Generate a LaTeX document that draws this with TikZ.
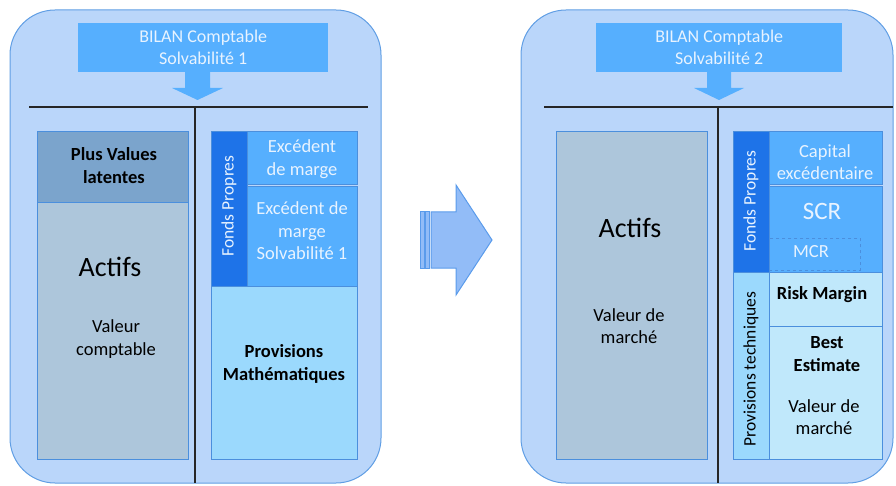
\documentclass[tikz,border=0pt]{standalone}
\usepackage{fontspec}
\setmainfont{Carlito}
\definecolor{panelfill}{RGB}{186,214,250}
\definecolor{panelline}{RGB}{96,158,228}
\definecolor{titlefill}{RGB}{86,175,254}
\definecolor{titletext}{RGB}{232,243,255}
\definecolor{pvfill}{RGB}{123,164,204}
\definecolor{actiffill}{RGB}{173,198,219}
\definecolor{darkstrip}{RGB}{30,115,232}
\definecolor{midfill}{RGB}{86,175,254}
\definecolor{palefill}{RGB}{155,217,253}
\definecolor{lightfill}{RGB}{192,232,251}
\definecolor{boxline}{RGB}{75,143,221}
\definecolor{arrowfill}{RGB}{146,188,247}
\definecolor{arrowline}{RGB}{90,155,235}
\tikzset{
  panel/.style={draw=panelline, line width=1pt, fill=panelfill, rounded corners=45pt},
  cell/.style={draw=boxline, line width=1pt, anchor=north west, inner sep=0pt},
  title/.style={fill=titlefill, anchor=north west, inner sep=0pt, minimum width=250pt, minimum height=49pt,
    text=titletext, align=center, font=\fontsize{18}{22}\selectfont},
  lbl/.style={align=center, inner sep=0pt, font=\fontsize{18.5}{22.5}\selectfont},
  boldlbl/.style={lbl, font=\fontsize{18.5}{23}\selectfont\bfseries},
  whitelbl/.style={lbl, text=titletext},
  vlbl/.style={rotate=90, inner sep=0pt, font=\fontsize{17.5}{18}\selectfont},
  rule/.style={draw=black!85, line width=1.3pt},
}
\begin{document}
\begin{tikzpicture}[x=1pt,y=-1pt]
\useasboundingbox (0,0) rectangle (896,486);

% ---- Solvabilité 1 balance sheet ----
\draw[panel] (10,10) rectangle (381,483);
\node[title] (t1) at (78,23) {BILAN Comptable\\Solvabilité 1};
\fill[titlefill] (185,72) -- (210,72) -- (210,88) -- (223,88) -- (197.5,100) -- (172,88) -- (185,88) -- cycle;
\coordinate (h1a) at (29,107);
\coordinate (h1b) at (368,107);
\coordinate (v1a) at (195,107);
\coordinate (v1b) at (195,483);
\draw[rule] (h1a) -- (h1b);
\draw[rule] (v1a) -- (v1b);

\node[cell, fill=pvfill, minimum width=151pt, minimum height=71pt] (pv) at (37,131) {};
\node[cell, fill=actiffill, minimum width=151pt, minimum height=257pt] (act1) at (37,202) {};
\node[boldlbl] (pvt) at (114,166) {Plus Values\\latentes};
\node[lbl, font=\fontsize{28}{30}\selectfont] (act1t) at (110,267) {Actifs};
\node[lbl] (vc) at (116,339) {Valeur\\comptable};

\node[cell, fill=darkstrip, minimum width=36pt, minimum height=155pt] (fp1) at (211,131) {};
\node[vlbl, text=titletext] (fp1t) at (229,206) {Fonds Propres};
\node[cell, fill=midfill, minimum width=110pt, minimum height=53pt] (em) at (247,131) {};
\node[whitelbl] (emt) at (302,159) {Excédent\\de marge};
\node[cell, fill=midfill, minimum width=110pt, minimum height=100pt] (ems) at (247,186) {};
\node[whitelbl] (emst) at (302,231) {Excédent de\\marge\\Solvabilité 1};
\node[cell, fill=palefill, minimum width=146pt, minimum height=173pt] (pm) at (211,286) {};
\node[boldlbl] (pmt) at (284,364) {Provisions\\Mathématiques};

% ---- transition arrow ----
\fill[arrowfill, draw=arrowline, line width=1pt]
  (431,212) -- (456,212) -- (456,185) -- (492,240) -- (456,295) -- (456,268) -- (431,268) -- cycle;
\fill[arrowfill, draw=arrowline, line width=1pt] (420,212) rectangle (424,268);
\fill[arrowfill, draw=arrowline, line width=1pt] (425.5,212) rectangle (429.5,268);

% ---- Solvabilité 2 balance sheet ----
\draw[panel] (521,10) rectangle (893,483);
\node[title, minimum width=246pt] (t2) at (596,23) {BILAN Comptable\\Solvabilité 2};
\fill[titlefill] (707,72) -- (731,72) -- (731,88) -- (744,88) -- (719,100) -- (694,88) -- (707,88) -- cycle;
\coordinate (h2a) at (544,107);
\coordinate (h2b) at (893,107);
\coordinate (v2a) at (718,107);
\coordinate (v2b) at (718,483);
\draw[rule] (h2a) -- (h2b);
\draw[rule] (v2a) -- (v2b);

\node[cell, fill=actiffill, minimum width=151pt, minimum height=328pt] (act2) at (556,131) {};
\node[lbl, font=\fontsize{28}{30}\selectfont] (act2t) at (630,228) {Actifs};
\node[lbl] (vm2) at (629,326) {Valeur de\\marché};

\node[cell, fill=darkstrip, minimum width=36pt, minimum height=141pt] (fp2) at (733,131) {};
\node[vlbl, text=titletext] (fp2t) at (751,201) {Fonds Propres};
\node[cell, fill=midfill, minimum width=113pt, minimum height=53pt] (ce) at (769,131) {};
\node[whitelbl] (cet) at (825,162) {Capital\\excédentaire};
\node[cell, fill=midfill, minimum width=113pt, minimum height=86pt] (scr) at (769,186) {};
\node[lbl, text=titletext, font=\fontsize{25}{28}\selectfont] (scrt) at (822,211) {SCR};
\node[draw=boxline, dashed, line width=0.8pt, anchor=north west, inner sep=0pt,
  minimum width=91pt, minimum height=32pt] (mcr) at (769,238) {};
\node[whitelbl] (mcrt) at (811,252) {MCR};

\node[cell, fill=palefill, minimum width=36pt, minimum height=187pt] (pt) at (733,272) {};
\node[vlbl] (ptt) at (751,369) {Provisions techniques};
\node[cell, fill=lightfill, minimum width=113pt, minimum height=54pt] (rm) at (769,272) {};
\node[boldlbl] (rmt) at (822,295) {Risk\ Margin};
\node[cell, fill=lightfill, minimum width=113pt, minimum height=133pt] (be) at (769,326) {};
\node[boldlbl] (bet) at (827,354) {Best\\Estimate};
\node[lbl] (vm3) at (824,417) {Valeur de\\marché};
\end{tikzpicture}
\end{document}
